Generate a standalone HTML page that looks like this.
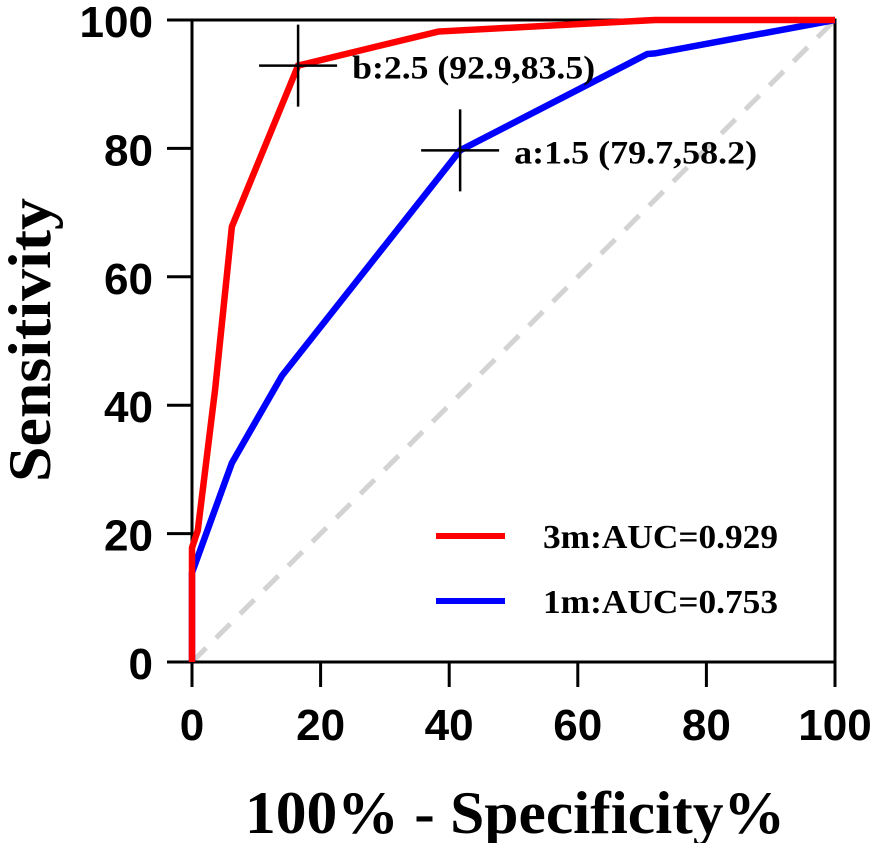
<!DOCTYPE html>
<html><head><meta charset="utf-8"><style>body{margin:0;background:#fff}svg{display:block}</style></head>
<body>
<svg width="877" height="843" viewBox="0 0 877 843">
<g id="plot"></g>
</svg>
<script>
const xTicks=[0,20,40,60,80,100];
const yTicks=[0,20,40,60,80,100];
const redX=[0,0,0.9,3.6,6.2,16.5,38.3,72,100];
const redY=[0,17.8,20.5,42.5,67.8,92.9,98.2,100,100];
const blueX=[0,0,6.2,14,41.7,70.8,72,100];
const blueY=[0,13.9,31,44.6,79.7,94.7,94.8,100];
const cutX=[16.5,41.7];
const cutY=[92.9,79.7];
const cutLabels=["b:2.5 (92.9,83.5)","a:1.5 (79.7,58.2)"];
const legendLabels=["3m:AUC=0.929","1m:AUC=0.753"];
const NS="http://www.w3.org/2000/svg";
const X0=192,X1=835,Y0=662,Y1=20;
const sx=v=>X0+(X1-X0)*v/100, sy=v=>Y0-(Y0-Y1)*v/100;
const g=document.getElementById('plot');
function mk(t,a,p){const e=document.createElementNS(NS,t);for(const k in a)e.setAttribute(k,a[k]);(p||g).appendChild(e);return e;}
let d=mk('line',{x1:sx(0),y1:sy(0),x2:sx(100),y2:sy(100),stroke:'#d3d3d3','stroke-width':5,'stroke-dasharray':'20 14'});


let f=mk('rect',{x:X0,y:Y1,width:X1-X0,height:Y0-Y1,fill:'none',stroke:'#000','stroke-width':3});


xTicks.forEach(v=>{
 let t=mk('line',{x1:sx(v),x2:sx(v),y1:Y0,y2:Y0+25,stroke:'#000','stroke-width':3});
 
 
 let l=mk('text',{x:sx(v),y:Y0+78,'text-anchor':'middle','font-family':'Liberation Sans, sans-serif','font-weight':'bold','font-size':44,textLength:String(v).length*24.5,lengthAdjust:'spacingAndGlyphs'});
 l.textContent=v;
 
 
});
yTicks.forEach(v=>{
 let t=mk('line',{x1:X0-25,x2:X0,y1:sy(v),y2:sy(v),stroke:'#000','stroke-width':3});
 
 
 let l=mk('text',{x:X0-39,y:sy(v)+17,'text-anchor':'end','font-family':'Liberation Sans, sans-serif','font-weight':'bold','font-size':44,textLength:String(v).length*24.5,lengthAdjust:'spacingAndGlyphs'});
 l.textContent=v;
 
 
});
function line(xs,ys,c,n){
 let p=mk('polyline',{points:xs.map((x,i)=>sx(x)+','+sy(ys[i])).join(' '),fill:'none',stroke:c,'stroke-width':6.5,'stroke-linejoin':'miter'});
 
 
}
line(blueX,blueY,'#0000ff','roc-curve-1m');
line(redX,redY,'#ff0000','roc-curve-3m');
cutX.forEach((x,i)=>{
 let cx=sx(x),cy=sy(cutY[i]);
 let h=mk('path',{d:`M${cx-39} ${cy}H${cx+39}M${cx} ${cy-41}V${cy+41}`,stroke:'#000','stroke-width':2.5,fill:'none'});
 
 
 let t=mk('text',{x:cx+54,y:cy+13,'font-family':'Liberation Serif, serif','font-weight':'bold','font-size':33,textLength:243,lengthAdjust:'spacingAndGlyphs'});
 t.textContent=cutLabels[i];
 
 
});
const lc=['#ff0000','#0000ff'],ly=[536,601];
legendLabels.forEach((s,i)=>{
 let l=mk('line',{x1:436,x2:505,y1:ly[i],y2:ly[i],stroke:lc[i],'stroke-width':6});
 
 
 let t=mk('text',{x:543,y:ly[i]+12,'font-family':'Liberation Serif, serif','font-weight':'bold','font-size':34,textLength:235,lengthAdjust:'spacingAndGlyphs'});
 t.textContent=s;
 
 
});
let xt=mk('text',{x:245,y:833,'font-family':'Liberation Serif, serif','font-weight':'bold','font-size':60,textLength:540,lengthAdjust:'spacingAndGlyphs'});
xt.textContent='100% - Specificity%';


let yt=mk('text',{x:0,y:0,transform:'translate(50,482) rotate(-90)','font-family':'Liberation Serif, serif','font-weight':'bold','font-size':60,textLength:284,lengthAdjust:'spacingAndGlyphs'});
yt.textContent='Sensitivity';


</script>
</body></html>
